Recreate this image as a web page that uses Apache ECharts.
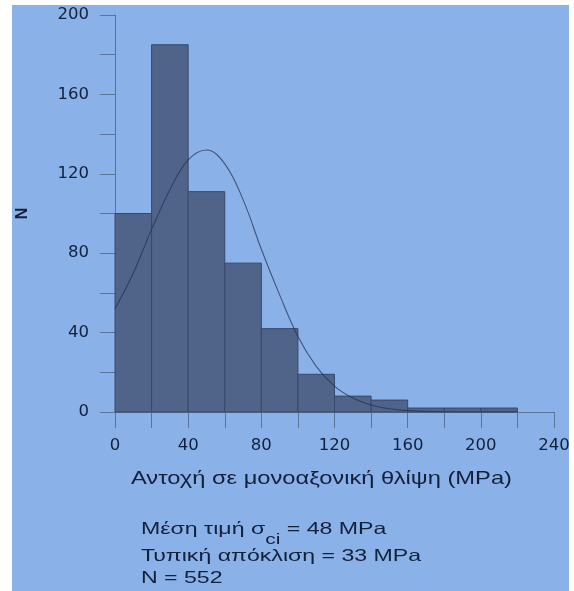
<!DOCTYPE html>
<html>
<head>
<meta charset="utf-8">
<script src="https://cdn.jsdelivr.net/npm/echarts@6/dist/echarts.min.js"></script>
<style>
html,body{margin:0;padding:0;background:#ffffff;}
#chart{width:574px;height:591px;}
</style>
</head>
<body>
<div id="chart"></div>
<script>
// Histogram bins: [start, end]
const binStarts = [0, 20, 40, 60, 80, 100, 120, 140, 160, 180, 200];
const binEnds   = [20, 40, 60, 80, 100, 120, 140, 160, 180, 200, 220];
const binCounts = [100, 185, 111, 75, 42, 19, 8, 6, 2, 2, 2];

// Fitted normal curve
const curveX = [0, 10, 20, 30, 40, 50, 60, 70, 80, 90, 100, 110, 120, 130, 140, 150, 160, 180, 200, 220];
const curveY = [52, 70, 92, 112, 127, 132, 125, 107, 82, 59, 38, 23, 13, 7, 3.5, 1.6, 0.7, 0.1, 0, 0];

const xTickLabels = ['0', '40', '80', '120', '160', '200', '240'];
const yTickLabels = ['0', '40', '80', '120', '160', '200'];

const xTitle = 'Αντοχή σε μονοαξονική θλίψη (MPa)';
const yTitle = 'N';
const statLines = ['Μέση τιμή σ', 'ci', ' = 48 MPa', 'Τυπική απόκλιση = 33 MPa', 'N = 552'];

const histData = binStarts.map((s, i) => [s, binEnds[i], binCounts[i]]);
const curveData = curveX.map((x, i) => [x, curveY[i]]);

const textColor = '#12203a';
const axisColor = '#5c7396';
const tickFont = '"DejaVu Sans", Arial, sans-serif';
const textFont = '"Liberation Sans", Arial, sans-serif';

const chart = echarts.init(document.getElementById('chart'), null, {renderer: 'canvas'});
chart.setOption({
  backgroundColor: '#ffffff',
  animation: false,
  graphic: [
    {type: 'rect', z: -10, silent: true, shape: {x: 12, y: 5, width: 557, height: 600}, style: {fill: '#8bb1e9'}},
    {type: 'text', x: 131, y: 469, scaleX: 1.28, z: 10,
      style: {text: xTitle, font: '18.5px ' + textFont, fill: textColor, verticalAlign: 'top'}},
    {type: 'text', x: 141, y: 521, scaleX: 1.4, z: 10, style: {
      text: '{a|' + statLines[0] + '}{s|' + statLines[1] + '}{a|' + statLines[2] + '}',
      verticalAlign: 'top',
      rich: {
        a: {font: '16.5px ' + textFont, fill: textColor, lineHeight: 20, verticalAlign: 'top'},
        s: {font: '15px ' + textFont, fill: textColor, lineHeight: 20, verticalAlign: 'top', padding: [11, 0, 0, 0]}
      }
    }},
    {type: 'text', x: 141, y: 548, scaleX: 1.4, z: 10,
      style: {text: statLines[3], font: '16.5px ' + textFont, fill: textColor, verticalAlign: 'top'}},
    {type: 'text', x: 141, y: 570, scaleX: 1.4, z: 10,
      style: {text: statLines[4], font: '16.5px ' + textFont, fill: textColor, verticalAlign: 'top'}}
  ],
  grid: {left: 115, right: 20, top: 15, bottom: 179, containLabel: false},
  xAxis: {
    type: 'value', min: 0, max: 240, interval: 20,
    axisLine: {show: true, lineStyle: {color: axisColor, width: 1}},
    axisTick: {show: true, length: 16, lineStyle: {color: axisColor, width: 1}},
    splitLine: {show: false},
    axisLabel: {
      color: textColor, fontSize: 16.5, fontFamily: tickFont, margin: 25,
      formatter: v => { const s = String(v); return xTickLabels.indexOf(s) >= 0 ? s : ''; }
    }
  },
  yAxis: {
    type: 'value', min: 0, max: 200, interval: 20,
    name: yTitle, nameLocation: 'middle', nameRotate: 90, nameGap: 84,
    nameTextStyle: {color: textColor, fontSize: 16, fontWeight: 'bold', fontFamily: textFont},
    axisLine: {show: true, lineStyle: {color: axisColor, width: 1}},
    axisTick: {show: true, length: 15, lineStyle: {color: axisColor, width: 1}},
    splitLine: {show: false},
    axisLabel: {
      color: textColor, fontSize: 16.5, fontFamily: tickFont, margin: 26,
      formatter: v => { const s = String(v); return yTickLabels.indexOf(s) >= 0 ? s : ''; }
    }
  },
  series: [
    {
      type: 'custom',
      z: 1,
      renderItem: function (params, api) {
        const p0 = api.coord([api.value(0), api.value(2)]);
        const p1 = api.coord([api.value(1), 0]);
        return {
          type: 'rect',
          shape: {x: p0[0], y: p0[1], width: p1[0] - p0[0], height: p1[1] - p0[1]},
          style: {fill: '#50648a', stroke: '#35496c', lineWidth: 1}
        };
      },
      encode: {x: [0, 1], y: 2},
      data: histData
    },
    {
      type: 'line', data: curveData, smooth: 0.4, showSymbol: false, z: 10,
      lineStyle: {color: 'rgba(34,50,82,0.72)', width: 1.1}
    }
  ]
});
</script>
</body>
</html>
